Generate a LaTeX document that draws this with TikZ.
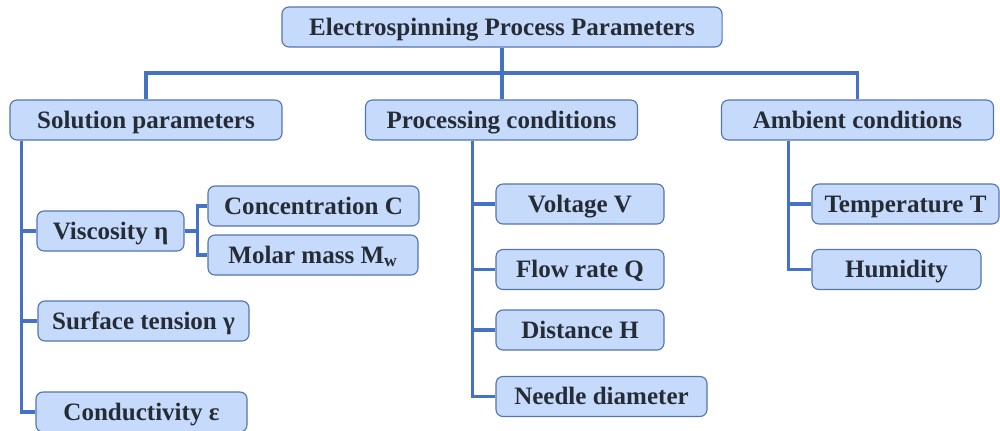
\documentclass[tikz,border=0pt]{standalone}
\usepackage{fontspec}
\setmainfont{Liberation Serif}
\usepackage{xcolor}
\usetikzlibrary{positioning,calc}

\definecolor{boxfill}{RGB}{198,219,252}
\definecolor{boxline}{RGB}{84,116,176}
\definecolor{linkblue}{RGB}{68,114,196}
\definecolor{textdark}{RGB}{38,44,54}

\begin{document}
\begin{tikzpicture}[x=0.025cm,y=-0.025cm,
  box/.style={draw=boxline,line width=0.8pt,fill=boxfill,rounded corners=5pt,minimum height=1cm,inner sep=0pt,text height=12pt,text depth=0.5pt,text=textdark,font=\fontsize{17.8}{20}\selectfont\bfseries},
  link/.style={draw=linkblue,line width=2.2pt}]

\useasboundingbox (0,0) rectangle (1000,430);

%Top
\node[box,minimum width=11cm] (root) at (502,27) {Electrospinning Process Parameters};

% Groups
\node[box,minimum width=6.8cm] (sol) at (146,120) {Solution parameters};
\node[box,minimum width=6.8cm] (proc) at (501.5,120) {Processing conditions};
\node[box,minimum width=6.8cm] (amb) at (857.5,120) {Ambient conditions};

% Solution parameters
\node[box,minimum width=3.675cm] (visc) at (110.5,231) {Viscosity η};
\node[box,minimum width=5.275cm] (conc) at (313.5,206) {Concentration C};
\node[box,minimum width=5.25cm] (molar) at (313,255) {Molar mass M\textsubscript{w}};
\node[box,minimum width=5.275cm] (surf) at (143.5,321) {Surface tension γ};
\node[box,minimum width=5.275cm] (cond) at (141.5,412) {Conductivity ε};

% Processing conditions
\node[box,minimum width=4.2cm] (volt) at (580,204) {Voltage V};
\node[box,minimum width=4.2cm] (flow) at (580,269.5) {Flow rate Q};
\node[box,minimum width=4.2cm] (dist) at (580,330) {Distance H};
\node[box,minimum width=5.275cm] (needle) at (601.5,396.5) {Needle diameter};

% Ambient conditions
\node[box,minimum width=4.675cm] (temp) at (905.5,204) {Temperature T};
\node[box,minimum width=4.225cm] (hum) at (896.5,269.5) {Humidity};

% Connections
\coordinate (bus) at (500,73);
\draw[link] (root.south) -- (root.south |- proc.north);
\draw[link] (sol.north) |- (bus) -| (amb.north);

\coordinate (soltrunk) at ([xshift=0.3cm]sol.south west);
\draw[link] (soltrunk) |- (visc.west) (soltrunk) |- (surf.west) (soltrunk) |- (cond.west);

\coordinate (viscjoin) at ([xshift=0.325cm]visc.east);
\draw[link] (visc.east) -- (viscjoin) |- (conc.west) (viscjoin) |- (molar.west);

\coordinate (proctrunk) at ([xshift=2.7cm]proc.south west);
\draw[link] (proctrunk) |- (volt.west) (proctrunk) |- (flow.west) (proctrunk) |- (dist.west) (proctrunk) |- (needle.west);

\coordinate (ambtrunk) at ([xshift=1.7cm]amb.south west);
\draw[link] (ambtrunk) |- (temp.west) (ambtrunk) |- (hum.west);

\end{tikzpicture}
\end{document}
